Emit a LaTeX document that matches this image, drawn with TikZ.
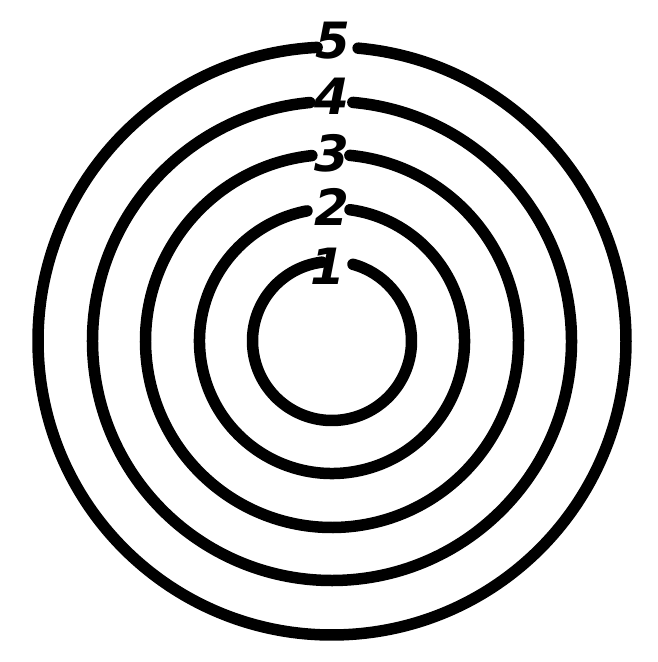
\documentclass[tikz,border=0pt]{standalone}
\usepackage{fontspec}
\newfontfamily\numfont{DejaVu Sans}
\begin{document}
\begin{tikzpicture}[x=1pt,y=1pt,
  ring/.style={line width=11.5pt,line cap=round,black},
  num/.style={font=\numfont\fontsize{50}{50}\selectfont\bfseries\itshape,inner sep=0pt,anchor=center}]
\useasboundingbox (0,0) rectangle (658,662);
\coordinate (c) at (332,321);
% rings: start angle, end angle, radius
\draw[ring] ([shift={(92.9:294)}]c) arc[start angle=92.9,end angle=444.9,radius=294];
\draw[ring] ([shift={(95.3:239.5)}]c) arc[start angle=95.3,end angle=445,radius=239.5];
\draw[ring] ([shift={(96.2:186.5)}]c) arc[start angle=96.2,end angle=444.5,radius=186.5];
\draw[ring] ([shift={(100.9:132.5)}]c) arc[start angle=100.9,end angle=442.2,radius=132.5];
\draw[ring] ([shift={(97.2:79.5)}]c) arc[start angle=97.2,end angle=434.7,radius=79.5];
% labels
\node[num] (n5) at (333,621) {5};
\node[num] (n4) at (332,566) {4};
\node[num] (n3) at (332,509) {3};
\node[num] (n2) at (332,455) {2};
\node[num] (n1) at (328,396) {1};
\end{tikzpicture}
\end{document}
